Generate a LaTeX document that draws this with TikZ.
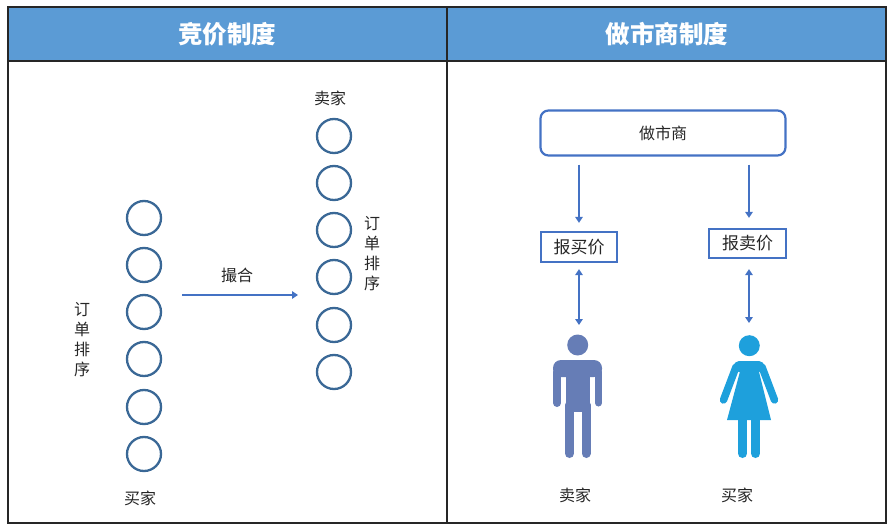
\documentclass[tikz,border=0pt]{standalone}
\usepackage{fontspec}
\setmainfont{Noto Sans CJK SC}
\usetikzlibrary{arrows.meta}

\definecolor{testata}{HTML}{5B9BD5}
\definecolor{anello}{HTML}{3A6896}
\definecolor{linea}{HTML}{4472C4}
\definecolor{uomo}{HTML}{667DB6}
\definecolor{donna}{HTML}{1EA0DC}
\definecolor{scritta}{HTML}{262626}

\tikzset{
  ordine/.style={circle, draw=anello, line width=2.3pt, minimum size=34pt, inner sep=0pt},
  testo/.style={font=\fontsize{16}{20}\selectfont, text=scritta, inner sep=0pt, align=center},
  titolo/.style={font=\fontsize{24.5}{24.5}\selectfont\bfseries, text=white},
  riquadro/.style={draw=linea, line width=2.2pt, text=scritta, font=\fontsize{17}{17}\selectfont},
  freccia/.style={draw=linea, line width=2.2pt, -{Triangle[length=6pt,width=7.5pt]}},
  doppia/.style={draw=linea, line width=2.2pt, {Triangle[length=6pt,width=7.5pt]}-{Triangle[length=6pt,width=7.5pt]}}
}

\begin{document}
\begin{tikzpicture}[x=1pt,y=-1pt]
        \useasboundingbox (0,0) rectangle (894,532);

        % Tabella
        \fill[testata] (8,7) rectangle (886,61);
        \draw[line width=1.3pt, black!85] (8,7) rectangle (886,523);
        \draw[line width=1.3pt, black!85] (8,61) -- (886,61);
        \draw[line width=1.3pt, black!85] (447,7) -- (447,523);
        \node[titolo] (tasta) at (227,34.5) {竞价制度};
        \node[titolo] (tmarket) at (667,34.5) {做市商制度};

        % Cerchi acquirenti
        \node[ordine] (b1) at (144,218) {};
        \node[ordine] (b2) at (144,265) {};
        \node[ordine] (b3) at (144,312) {};
        \node[ordine] (b4) at (144,359) {};
        \node[ordine] (b5) at (144,407) {};
        \node[ordine] (b6) at (144,454) {};

        % Cerchi venditori
        \node[ordine] (s1) at (334,136) {};
        \node[ordine] (s2) at (334,183) {};
        \node[ordine] (s3) at (334,230) {};
        \node[ordine] (s4) at (334,277) {};
        \node[ordine] (s5) at (334,325) {};
        \node[ordine] (s6) at (334,372) {};

        % Etichette
        \node[testo] (buyer) at (140,498) {买家};
        \node[testo] (seller) at (330,98) {卖家};
        \node[testo] (ordl) at (82,340) {订\\单\\排\\序};
        \node[testo] (ordr) at (372,254) {订\\单\\排\\序};

        % Abbinamento
        \coordinate (m1) at (182,295);
        \coordinate (m2) at (298,295);
        \draw[freccia] (m1) -- (m2);
        \node[testo] (match) at (237,275) {撮合};

        % Market maker
        \node[riquadro, rounded corners=8pt, minimum width=245pt, minimum height=45pt,
              font=\fontsize{16}{16}\selectfont] (mm) at (663,133) {做市商};
        \node[riquadro, minimum width=76pt, minimum height=30pt, inner sep=2pt] (bid) at (579,247) {报买价};
        \node[riquadro, minimum width=77pt, minimum height=29pt, inner sep=2pt] (ask) at (747.5,243.5) {报卖价};
        \draw[freccia, shorten <=8pt, shorten >=8pt] (mm.south -| bid) -- (bid.north);
        \draw[freccia, shorten <=8pt, shorten >=10pt] (mm.south -| 749,0) -- (ask.north -| 749,0);

        % Persone
        \coordinate (hs) at (578,334);
        \coordinate (hb) at (749,335);
        \draw[doppia, shorten <=6pt, shorten >=9pt] (bid.south) -- (bid.south |- hs);
        \draw[doppia, shorten <=10pt, shorten >=12pt] (ask.south -| hb) -- (hb);

        % Uomo (venditore)
        \fill[uomo] (577.7,345) circle (10.5);
        \fill[uomo, rounded corners=8pt] (553,360) rectangle (602,377);
        \fill[uomo] (566,370) rectangle (590,412);
        \draw[uomo, line width=8pt, line cap=round] (557,372) -- (557,403);
        \draw[uomo, line width=7pt, line cap=round] (598.5,372) -- (598.5,403);
        \draw[uomo, line width=9pt, line cap=round] (569.5,405) -- (569.5,453.5);
        \draw[uomo, line width=9pt, line cap=round] (586,405) -- (586,453.5);

        % Donna (acquirente)
        \fill[donna] (749.3,345.7) circle (10.5);
        \fill[donna, rounded corners=5pt] (734,361) rectangle (764,372);
        \fill[donna] (742,364) -- (757,364) -- (771,420) -- (727,420) -- cycle;
        \draw[donna, line width=7.5pt, line cap=round] (736,367) -- (723.5,400);
        \draw[donna, line width=7.5pt, line cap=round] (762,367) -- (774.5,400);
        \draw[donna, line width=9pt, line cap=round] (742.5,418) -- (742.5,453.5);
        \draw[donna, line width=9pt, line cap=round] (755.5,418) -- (755.5,453.5);

        \node[testo] (lseller) at (575,495) {卖家};
        \node[testo] (lbuyer) at (737,495) {买家};
    \end{tikzpicture}
\end{document}
